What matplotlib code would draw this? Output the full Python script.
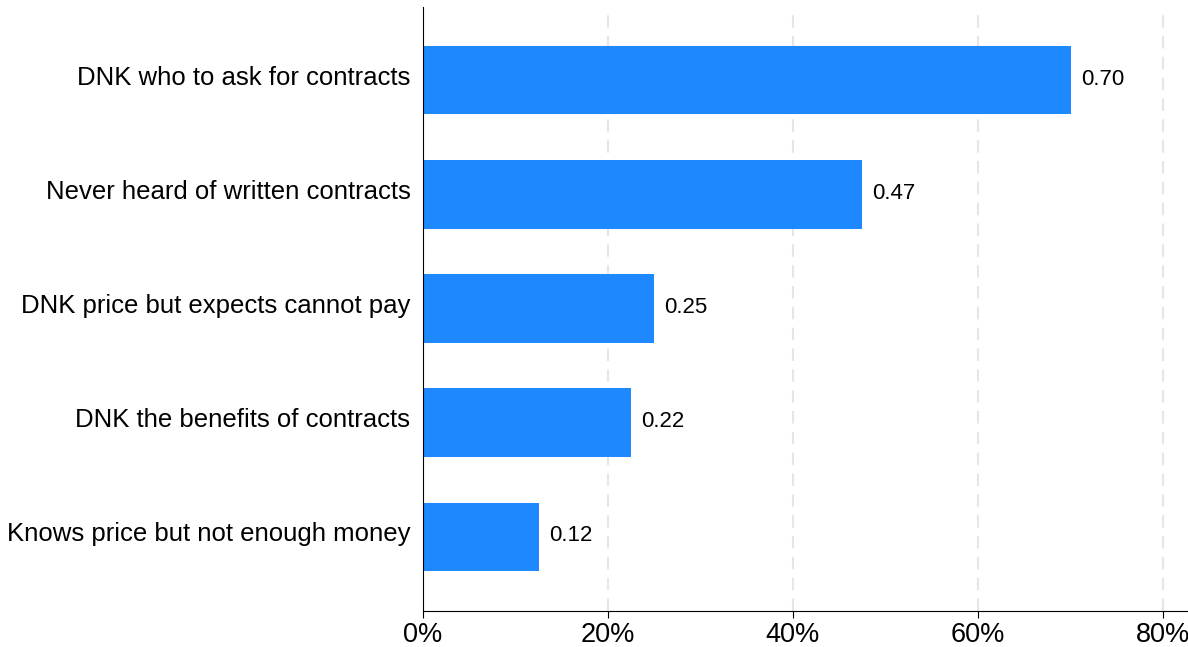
import matplotlib
matplotlib.use("Agg")
import matplotlib.pyplot as plt
import matplotlib.transforms as mtransforms
from matplotlib.ticker import PercentFormatter

categories = ["DNK who to ask for contracts",
              "Never heard of written contracts",
              "DNK price but expects cannot pay",
              "DNK the benefits of contracts",
              "Knows price but not enough money"]
values = [0.70, 0.475, 0.25, 0.225, 0.125]
labels = ["0.70", "0.47", "0.25", "0.22", "0.12"]
xticks = [0, 0.2, 0.4, 0.6, 0.8]

fig = plt.figure(figsize=(11.88, 6.47), dpi=100)
ax = fig.add_axes([0.356, 0.0556, 0.644, 0.9334])

ypos = list(range(len(categories)))
ax.barh(ypos, values, height=0.6, color="#1e88ff", zorder=2)
for y, v, t in zip(ypos, values, labels):
    ax.text(v + 0.011, y - 0.01, t, va="center", ha="left", fontsize=16,
            family="Liberation Sans")

ax.set_yticks(ypos)
ax.set_yticklabels(categories, fontsize=18.5, family="Liberation Sans")
ax.tick_params(axis="y", length=0, pad=9)
ax.set_ylim(4.65, -0.64)
# labels sit a little above the bar centres in the original
shift = mtransforms.ScaledTranslation(0, 5 / 100, fig.dpi_scale_trans)
for lab in ax.get_yticklabels():
    lab.set_transform(lab.get_transform() + shift)

ax.set_xlim(0, 0.827)
ax.set_xticks(xticks)
ax.xaxis.set_major_formatter(PercentFormatter(1.0, decimals=0))
for lab in ax.get_xticklabels():
    lab.set_fontsize(19.5)
    lab.set_family(["Liberation Sans Narrow", "Liberation Sans"])
ax.tick_params(axis="x", length=5, color="black", pad=3)

ax.grid(axis="x", color="#e6e6e6", linestyle=(0, (6, 4)), linewidth=1.5, zorder=0)
for s in ["top", "right"]:
    ax.spines[s].set_visible(False)
ax.spines["left"].set_color("black")
ax.spines["bottom"].set_color("black")

fig.savefig("out.png", dpi=100)
